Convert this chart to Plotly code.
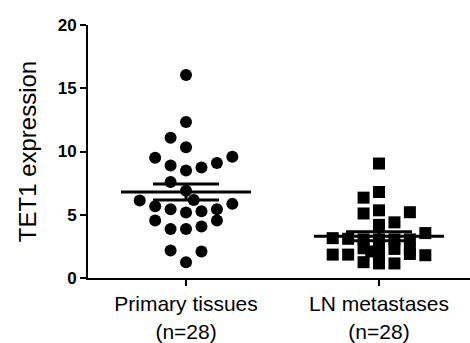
import numpy as np
import plotly.graph_objects as go

categories = ["Primary tissues<br>(n=28)", "LN metastases<br>(n=28)"]

primary_values = [16.05, 12.34, 11.08, 10.33, 9.51, 9.59, 9.10, 8.89, 8.50, 8.73,
                  7.58, 6.90, 6.12, 6.17, 5.86, 5.67, 5.44, 5.18, 5.28, 5.44,
                  4.55, 3.87, 3.87, 4.08, 4.55, 2.17, 2.09, 1.25]
primary_cols = [0, 0, -1, 0, -2, 3, 2, -1, 0, 1,
                -1, 0, -3, 0.5, 3, -2, -1, 0, 1, 2,
                -2, -1, 0, 1, 2, -1, 1, 0]

ln_values = [9.05, 6.80, 6.35, 5.35, 5.10, 5.20, 4.40, 4.20, 3.55, 3.15,
             3.10, 3.05, 3.05, 3.05, 3.05, 2.35, 2.40, 2.30, 2.25, 1.75,
             1.85, 1.85, 1.90, 1.80, 1.25, 1.15, 1.15, 2.10]
ln_cols = [0, 0, -1, 0, -1, 2, 1, 0, 3, -3,
           -2, -1, 0, 1, 2, -1, 0, 1, 2, 0,
           -3, -2, 2, 3, -1, 0, 1, -0.5]

y_ticks = [0, 5, 10, 15, 20]
p_text = "<i>P</i><0.001"

COL_STEP = 0.08
MEAN_HALF = 0.337
CAP_HALF = 0.171
FONT = "Liberation Sans, Arial, sans-serif"

fig = go.Figure()

groups = [(0, primary_values, primary_cols, "circle"),
          (1, ln_values, ln_cols, "square")]

for pos, vals, cols, sym in groups:
    vals = np.array(vals)
    xs = pos + np.array(cols) * COL_STEP
    fig.add_trace(go.Scatter(x=xs, y=vals, mode="markers",
                             marker=dict(symbol=sym, size=12, color="black"),
                             showlegend=False, cliponaxis=False))

for pos, vals, cols, sym in groups:
    vals = np.array(vals)
    m = vals.mean()
    sem = vals.std(ddof=1) / np.sqrt(len(vals))
    line = dict(color="black", width=3)
    fig.add_trace(go.Scatter(x=[pos - MEAN_HALF, pos + MEAN_HALF], y=[m, m], mode="lines",
                             line=line, showlegend=False, hoverinfo="skip"))
    for yy in (m - sem, m + sem):
        fig.add_trace(go.Scatter(x=[pos - CAP_HALF, pos + CAP_HALF], y=[yy, yy], mode="lines",
                                 line=line, showlegend=False, hoverinfo="skip"))
    fig.add_trace(go.Scatter(x=[pos, pos], y=[m - sem, m + sem], mode="lines",
                             line=line, showlegend=False, hoverinfo="skip"))

fig.add_annotation(x=0.59, y=20.4, xref="x", yref="y", text=p_text, showarrow=False,
                   font=dict(family=FONT, size=21, color="black"))

fig.update_layout(
    width=470, height=343,
    margin=dict(l=88, r=0, t=25, b=62),
    paper_bgcolor="white", plot_bgcolor="white",
    font=dict(family=FONT, color="black"),
    xaxis=dict(range=[-0.508, 1.4715], tickvals=[0, 1], ticktext=categories,
               showline=True, linecolor="black", linewidth=2,
               ticks="outside", ticklen=6, tickwidth=2, tickcolor="black",
               showgrid=False, zeroline=False,
               tickfont=dict(family=FONT, size=21, color="black")),
    yaxis=dict(range=[0, 20], tickvals=y_ticks,
               ticktext=[f"<b>{t}</b>" for t in y_ticks],
               showline=True, linecolor="black", linewidth=2,
               ticks="outside", ticklen=6, tickwidth=2, tickcolor="black",
               showgrid=False, zeroline=False,
               tickfont=dict(family=FONT, size=17, color="black"),
               title=dict(text="TET1 expression", standoff=14,
                          font=dict(family=FONT, size=24, color="black"))),
)

fig.write_html("out.html", config={"displayModeBar": False},
               post_script="document.body.style.margin='0';document.body.style.overflow='hidden';")
